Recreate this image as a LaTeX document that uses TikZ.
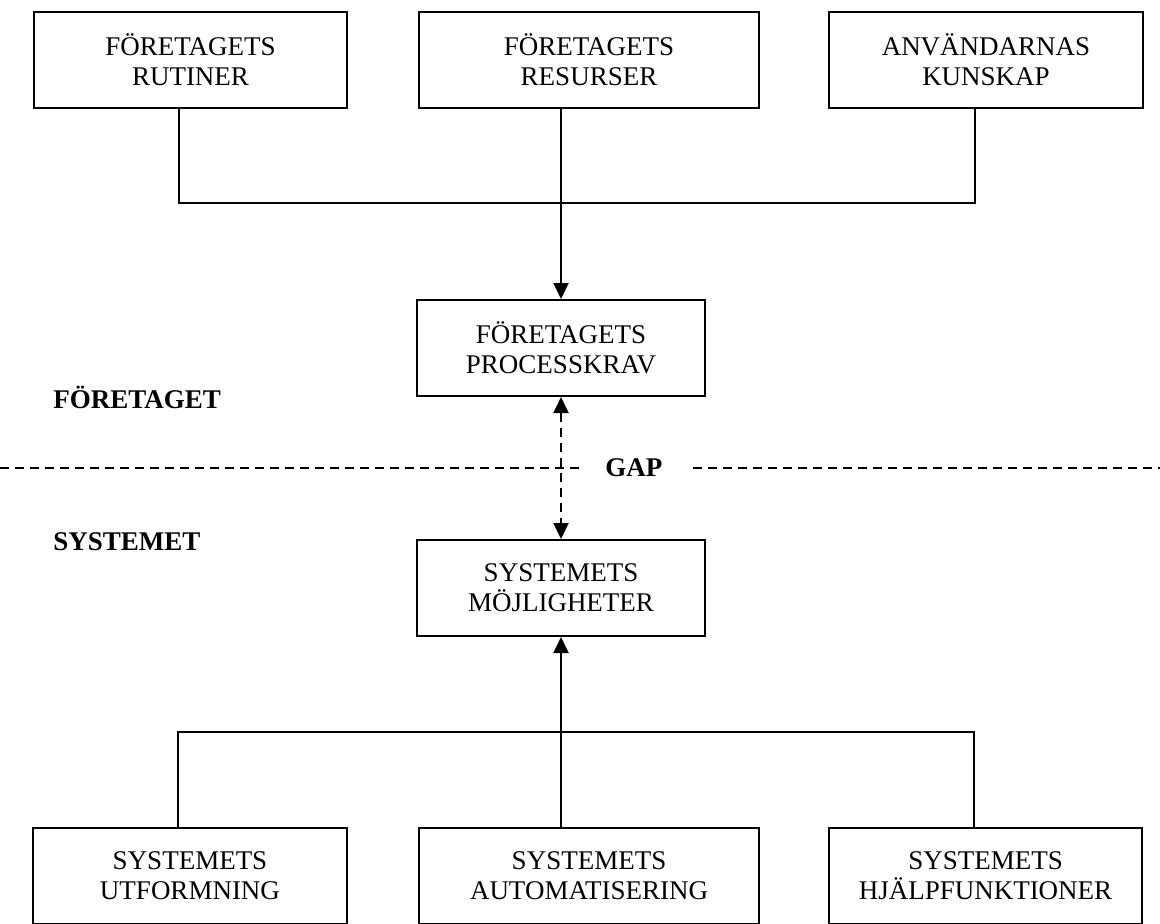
\documentclass[tikz,border=0pt]{standalone}
\usepackage{fontspec}
\setmainfont{Liberation Serif}
\usetikzlibrary{arrows.meta,positioning}

\begin{document}
\begin{tikzpicture}[x=0.5pt, y=-0.5pt, node distance=35pt, >={Triangle[width=7.5pt,length=8pt]},
  r/.style={draw, line width=1pt, minimum height=48pt, align=center, inner sep=2pt,
    font=\fontsize{13.5}{15}\selectfont},
  t/.style={font=\fontsize{13.5}{15}\selectfont\bfseries, inner sep=0pt, anchor=west},
  e/.style={->, line width=1pt},
  d/.style={line width=1pt, dash pattern=on 4.5pt off 3pt}]
\useasboundingbox (0,0) rectangle (1160,923);
% top row
\node[r, minimum width=156.5pt] (rut) at (190.5,60) {FÖRETAGETS\\RUTINER};
\node[r, minimum width=170pt, right=of rut] (res) {FÖRETAGETS\\RESURSER};
\node[r, minimum width=157pt, right=34pt of res] (kun) {ANVÄNDARNAS\\KUNSKAP};
\node[r, minimum width=144pt] (krav) at (561,348) {FÖRETAGETS\\PROCESSKRAV};
\node[r, minimum width=144pt] (moj) at (561,588) {SYSTEMETS\\MÖJLIGHETER};
% bottom row
\node[r, minimum width=157pt] (utf) at (190,876) {SYSTEMETS\\UTFORMNING};
\node[r, minimum width=170pt, right=of utf] (aut) {SYSTEMETS\\AUTOMATISERING};
\node[r, minimum width=156.5pt, right=34pt of aut] (hjf) {SYSTEMETS\\HJÄLPFUNKTIONER};
% labels
\node[t] (ftg) at (53,397) {FÖRETAGET};
\node[t] (sys) at (53,542) {SYSTEMET};
\node[t] (gap) at (605,468) {GAP};
\coordinate (j1) at (561,203);
\coordinate (j2) at (561,732);
\draw[line width=1pt] ([xshift=-6pt]rut.south) |- (j1) -| ([xshift=-5.5pt]kun.south);
\draw[e] (res.south -| krav) -- (krav);
\draw[d, <->] (krav) -- (moj);
\draw[d] (0,468) -- ([xshift=-10pt]gap.west);
\draw[d] ([xshift=15pt]gap.east) -- (1160,468);
\draw[e] (aut.north -| moj) -- (moj);
\draw[line width=1pt] ([xshift=-6pt]utf.north) |- (j2) -| ([xshift=-6pt]hjf.north);
\end{tikzpicture}
\end{document}
